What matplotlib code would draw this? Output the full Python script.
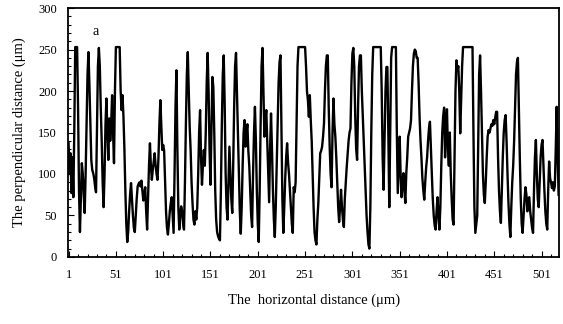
import matplotlib
matplotlib.use("Agg")
import matplotlib.pyplot as plt
from matplotlib.ticker import FixedLocator, MultipleLocator

# perpendicular distance (um), one value per um step
profile = [
    137, 100, 125, 77, 120, 72, 150,
    253, 253, 253,
    180, 80, 30, 70, 113, 100, 75, 53, 100, 160, 220, 247,
    208, 160, 117, 105, 101, 95, 85, 78, 150, 230, 252,
    230, 180, 140, 90, 60, 100, 160, 191, 150, 117, 167, 140, 160, 195, 150, 113, 200,
    253, 253, 253, 253, 253,
    201, 177, 195, 169, 130, 80, 40, 18, 30, 55, 75, 89, 70, 50, 35, 30, 50, 70, 85, 88,
    90, 85, 92, 80, 68, 75, 84, 55, 33, 70, 110, 137, 110, 93, 105, 115, 125, 110, 100, 93, 120, 160, 189, 160, 129,
    135, 128, 90, 55, 35, 27, 40, 55, 65, 72, 50, 29, 100, 180, 225, 130, 60, 33, 50, 61, 55, 40, 33, 90, 160, 220, 247,
    200, 157, 129, 90, 65, 45, 39, 55, 45, 60, 100, 150, 177, 120, 87, 110, 129, 110, 150, 210, 246, 200, 130,
    87, 150, 217, 205, 150, 80, 45, 30, 25, 22, 20, 80, 160, 220, 243, 185, 101, 60, 45, 90, 133, 100, 70, 53, 110,
    180, 230, 246, 200, 150, 100, 55, 28, 60, 110, 150, 165, 133, 150, 160, 128, 110, 80, 50, 36, 100, 150, 181, 140, 80,
    40, 18, 80, 160, 230, 252, 200, 145, 165, 177, 140, 100, 66, 130, 173, 130, 80, 45, 24, 60, 110, 160, 210, 235, 243,
    160, 70, 29, 60, 95, 120, 137, 114, 100, 80, 60, 40, 29, 84, 78, 90, 160, 230, 253,
    253, 253, 253, 253, 253, 253, 253,
    230, 200, 189, 169, 195, 165, 140, 100, 60, 30, 20, 15, 45, 65, 95, 125, 128, 133, 145, 161, 200, 230, 243, 243,
    180, 133, 100, 84, 150, 191, 160, 145, 120, 90, 60, 42, 60, 81, 60, 45, 36, 70, 90, 108, 125, 140, 150, 155, 210,
    245, 252, 230, 170, 130, 117, 180, 230, 243, 243, 200, 170, 140, 110, 80, 50, 30, 15, 10, 60, 150, 220, 253,
    253, 253, 253, 253, 253, 253, 253, 253,
    200, 120, 81, 140, 200, 229, 229, 150, 60, 150, 240, 253,
    253, 253, 253, 253,
    150, 77, 110, 145, 100, 72, 90, 101, 80, 65, 101, 120, 145, 150, 155, 165, 200, 230, 245, 250, 248, 240, 240,
    210, 170, 141, 120, 95, 80, 69, 90, 108, 120, 140, 155, 163, 130, 100, 70, 50, 38, 33, 55, 72, 50, 33, 60, 110, 150, 170, 180, 120, 160,
    178, 130, 110, 150, 100, 70, 45, 39, 120, 200, 237, 225, 230, 200, 149, 190, 230, 253, 253, 253,
    253, 253, 253, 253, 253, 253, 253, 253,
    150, 60, 29, 40, 50, 140, 220, 243, 200, 150, 100, 75, 65, 90, 120, 145, 153, 150, 155, 160, 158, 165, 160, 168, 175, 175, 120, 80, 55, 41,
    80, 120, 150, 165, 171, 140, 100, 65, 40, 24, 60, 90, 110, 140, 180, 220, 235, 240, 180, 120, 70, 40, 29, 50, 70, 84, 75, 55, 70, 72, 55, 45,
    35, 29, 80, 120, 141, 100, 70, 60, 90, 120, 135, 141, 110, 80, 55, 40, 33, 80, 115, 95, 90, 83, 90, 80, 85, 130, 181, 120, 75,
]
x_labels = [1, 51, 101, 151, 201, 251, 301, 351, 401, 451, 501]
y_ticks = [0, 50, 100, 150, 200, 250, 300]

plt.rcParams["font.family"] = ["Liberation Serif", "DejaVu Serif"]

n = len(profile)
xs = list(range(1, n + 1))

fig = plt.figure(figsize=(5.63, 3.24), dpi=100)
ax = fig.add_axes([0.121, 0.207, 0.872, 0.768])
ax.plot(xs, profile, color="black", linewidth=1.7)

ax.set_xlim(0.5, n + 0.5)
ax.set_ylim(0, 300)
ax.xaxis.set_major_locator(FixedLocator(x_labels))
ax.xaxis.set_minor_locator(FixedLocator([v for v in range(11, n, 10) if v not in x_labels]))
ax.yaxis.set_major_locator(FixedLocator(y_ticks))
ax.yaxis.set_minor_locator(MultipleLocator(10))
ax.set_xticklabels([str(v) for v in x_labels])

ax.tick_params(which="both", direction="in", labelsize=9, width=0.8, top=False, right=False)
ax.tick_params(which="major", length=4)
ax.tick_params(which="minor", length=2.5)
ax.tick_params(axis="x", pad=9)
ax.tick_params(axis="y", pad=8)
for s in ax.spines.values():
    s.set_linewidth(1.3)

ax.text(0.05, 0.89, "a", transform=ax.transAxes, fontsize=10)
ax.set_xlabel("The  horizontal distance (\u03bcm)", fontsize=10.5, labelpad=9)
ax.set_ylabel("The perpendicular distance (\u03bcm)", fontsize=10.5, labelpad=9)

fig.savefig("out.png", dpi=100)
